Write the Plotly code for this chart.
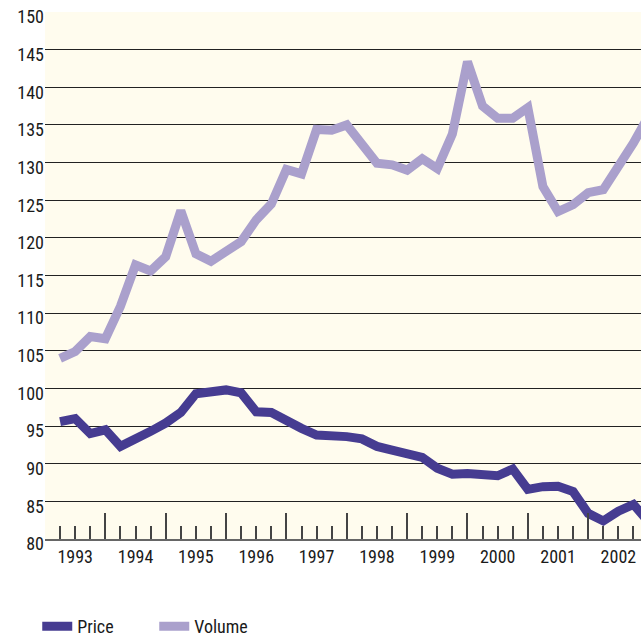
import plotly.graph_objects as go

# Quarterly index values (quarter 1 = first quarter of 1993)
quarters = list(range(1, 41))
price = [95.6, 96.0, 94.0, 94.5, 92.3, 93.2, 94.3, 95.4, 96.8, 99.3,
         99.7, 99.8, 99.4, 96.9, 96.8, 95.6, 94.7, 93.8, 93.8, 93.6,
         93.3, 92.3, 91.8, 91.4, 90.85, 89.4, 88.6, 88.7, 88.5, 88.4,
         89.3, 86.6, 86.95, 87.0, 86.3, 83.4, 82.4, 83.7, 84.6, 82.3]
volume = [104.0, 104.9, 106.9, 106.6, 110.9, 116.4, 115.6, 117.5, 123.6, 117.9,
          116.9, 118.2, 119.5, 122.4, 124.5, 129.1, 128.5, 134.4, 134.3, 135.0,
          132.3, 129.9, 129.7, 129.0, 130.5, 129.2, 133.8, 143.4, 137.5, 135.9,
          135.9, 137.3, 126.8, 123.5, 124.4, 126.0, 126.4, 129.4, 132.6, 136.2]

years = ["1993", "1994", "1995", "1996", "1997", "1998", "1999", "2000", "2001", "2002"]
year_centers = [2 + 4 * i for i in range(len(years))]
year_bounds = [4 * i for i in range(1, len(years))]
quarter_ticks = list(range(0, 40))
y_ticks = list(range(80, 151, 5))

FONT = "Liberation Sans Narrow, Arial Narrow, Roboto Condensed, sans-serif"
TXT = "#1a1a1a"
PRICE_C = "#463c91"
VOL_C = "#aaa0cc"

fig = go.Figure()
fig.add_trace(go.Scatter(x=quarters, y=price, mode="lines", name="Price",
                         line=dict(color=PRICE_C, width=9)))
fig.add_trace(go.Scatter(x=quarters, y=volume, mode="lines", name="Volume",
                         line=dict(color=VOL_C, width=9)))
# invisible helper trace for the year-label axis
fig.add_trace(go.Scatter(x=year_centers, y=[None] * len(year_centers), xaxis="x2",
                         mode="markers", showlegend=False, hoverinfo="skip"))

xr = [0, 39.5]
fig.update_layout(
    width=641, height=638,
    margin=dict(l=45, r=0, t=12, b=99, autoexpand=False),
    paper_bgcolor="white",
    plot_bgcolor="#fffcee",
    font=dict(family=FONT, size=18, color=TXT),
    showlegend=True,
    legend=dict(orientation="h", x=-0.013, y=-0.166, xanchor="left", yanchor="middle",
                font=dict(family=FONT, size=18, color=TXT),
                entrywidth=72, entrywidthmode="pixels", itemwidth=30,
                bgcolor="rgba(0,0,0,0)"),
    xaxis=dict(range=xr, tickmode="array", tickvals=year_bounds,
               ticks="inside", ticklen=26, tickwidth=1.5, tickcolor="#444444",
               showticklabels=False, showgrid=False, zeroline=False,
               showline=True, linecolor="#666666", linewidth=2,
               minor=dict(tickmode="array", tickvals=quarter_ticks, ticks="inside",
                          ticklen=13, tickwidth=1.5, tickcolor="#444444", showgrid=False)),
    xaxis2=dict(range=xr, overlaying="x", anchor="y", side="bottom",
                tickmode="array", tickvals=year_centers, ticktext=years,
                ticks="", showgrid=False, zeroline=False, showline=False,
                ticklabelstandoff=5,
                tickfont=dict(family=FONT, size=18, color=TXT)),
    yaxis=dict(range=[80, 150], tickmode="array", tickvals=y_ticks,
               ticktext=[str(v) for v in y_ticks], ticks="",
               showgrid=True, gridcolor="#222222", gridwidth=1,
               zeroline=False, showline=False, ticklabelshift=5,
               tickfont=dict(family=FONT, size=18, color=TXT)),
)

fig.write_html("out.html", config={"displayModeBar": False},
               post_script="document.body.style.margin='0';document.body.style.overflow='hidden';")
